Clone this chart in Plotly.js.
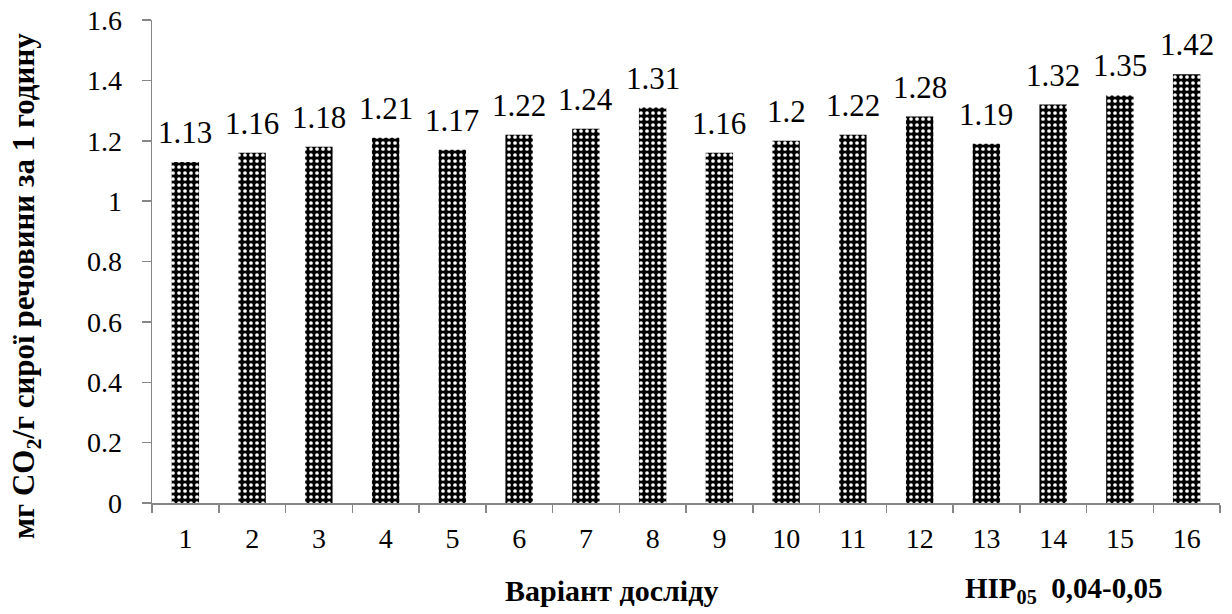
<!DOCTYPE html>
<html>
<head>
<meta charset="utf-8">
<script src="https://cdn.plot.ly/plotly-3.0.1.min.js"></script>
<style>html,body{margin:0;padding:0;background:#fff;}#chart{width:1232px;height:614px;}</style>
</head>
<body>
<div id="chart"></div>
<script>
const categories = ["1","2","3","4","5","6","7","8","9","10","11","12","13","14","15","16"];
const values = [1.13,1.16,1.18,1.21,1.17,1.22,1.24,1.31,1.16,1.2,1.22,1.28,1.19,1.32,1.35,1.42];
const labels = ["1.13","1.16","1.18","1.21","1.17","1.22","1.24","1.31","1.16","1.2","1.22","1.28","1.19","1.32","1.35","1.42"];
const yTicks = [0,0.2,0.4,0.6,0.8,1,1.2,1.4,1.6];
const yTickText = ["0","0.2","0.4","0.6","0.8","1","1.2","1.4","1.6"];

const serif = "Liberation Serif, Times New Roman, serif";

const trace = {
  type: "bar",
  x: categories,
  y: values,
  width: 0.41,
  marker: {
    color: "#000",
    line: {width: 0},
    pattern: {shape: ".", fgcolor: "#fff", bgcolor: "#000", size: 6, solidity: 0.3, fillmode: "replace"}
  },
  hoverinfo: "none"
};

// category axis positions are indices 0..n-1
const valueLabels = categories.map((c, i) => ({
  x: i, y: values[i], xref: "x", yref: "y",
  text: labels[i], showarrow: false,
  xanchor: "center", yanchor: "bottom", yshift: 10,
  font: {family: serif, size: 31, color: "#000"}
}));

const layout = {
  width: 1232, height: 614,
  margin: {l: 152, r: 12, t: 20, b: 111},
  paper_bgcolor: "#fff", plot_bgcolor: "#fff",
  showlegend: false,
  xaxis: {
    type: "category",
    range: [-0.5, categories.length - 0.5],
    showline: true, linecolor: "#868686", linewidth: 1.5,
    ticks: "outside", tickson: "boundaries", ticklen: 8, tickcolor: "#868686", tickwidth: 1.5,
    tickfont: {family: serif, size: 28, color: "#000"},
    ticklabelstandoff: 10,
    showgrid: false, zeroline: false
  },
  yaxis: {
    range: [0, 1.6],
    tickvals: yTicks, ticktext: yTickText,
    showline: true, linecolor: "#868686", linewidth: 1.5,
    ticks: "outside", ticklen: 9, tickcolor: "#868686", tickwidth: 1.5,
    tickfont: {family: serif, size: 28, color: "#000"},
    ticklabelstandoff: 14,
    showgrid: false, zeroline: false
  },
  annotations: valueLabels.concat([
    {xref: "paper", yref: "paper", x: (26-152)/1068, y: (503-286)/483, xanchor: "center", yanchor: "middle",
     textangle: -90,
     text: "<b>мг CO<sub>2</sub>/г сирої речовини за 1 годину</b>", showarrow: false, font: {family: serif, size: 31, color: "#000"}},
    {xref: "paper", yref: "paper", x: (503-152)/1068, y: -(590-503)/483, xanchor: "left", yanchor: "middle",
     text: "<b>Варіант досліду</b>", showarrow: false, font: {family: serif, size: 30, color: "#000"}},
    {xref: "paper", yref: "paper", x: (963-152)/1068, y: -(590-503)/483, xanchor: "left", yanchor: "middle",
     text: "<b>НІР<sub>05</sub>  0,04-0,05</b>", showarrow: false, font: {family: serif, size: 29, color: "#000"}}
  ])
};

Plotly.newPlot("chart", [trace], layout, {displayModeBar: false, staticPlot: true});
</script>
</body>
</html>
